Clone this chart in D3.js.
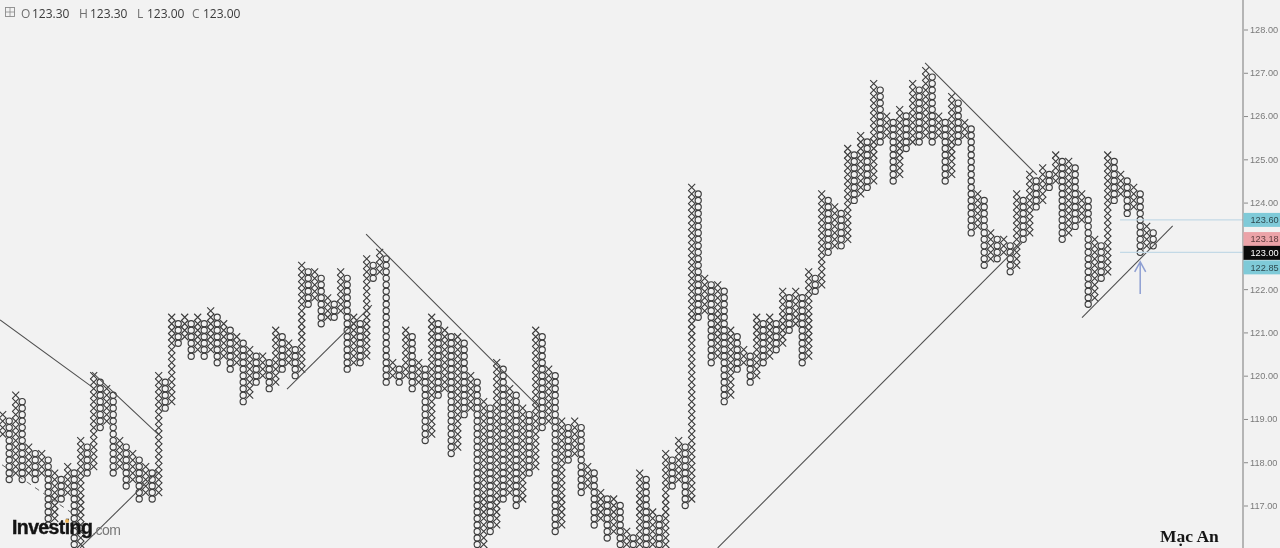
<!DOCTYPE html>
<html>
<head>
<meta charset="utf-8">
<script src="https://cdnjs.cloudflare.com/ajax/libs/d3/7.8.5/d3.min.js"></script>
<style>
html,body{margin:0;padding:0;background:#f2f2f2;overflow:hidden}
svg{display:block;filter:blur(0.35px)}
</style>
</head>
<body>
<svg id="c" width="1280" height="548"></svg>
<script>
const boxSize = 0.15;
// Top of every X column (columns 0, 2, 4, ...)
const xColumnTops = [119.10,119.55,118.35,118.20,117.75,117.90,118.50,120.00,119.70,118.50,118.20,117.90,120.00,
121.35,121.35,121.35,121.50,121.20,120.90,120.60,120.45,121.05,120.75,122.55,122.40,121.80,122.40,121.35,122.70,122.85,
120.30,121.05,120.30,121.35,121.05,120.90,120.00,119.40,120.30,119.70,119.25,121.05,120.15,118.95,118.95,117.90,117.30,
117.15,116.40,117.75,116.85,118.20,118.50,124.35,122.25,122.10,121.05,120.60,121.35,121.35,121.95,121.95,122.40,124.20,
123.90,125.25,125.55,126.75,126.00,126.15,126.75,127.05,126.00,126.45,125.85,124.20,123.30,123.15,124.20,124.65,124.80,
125.10,124.95,124.20,123.15,125.10,124.65,124.35,123.45];
// Bottom of every O column (columns 1, 3, 5, ...)
const oColumnLows = [117.60,117.60,117.60,116.55,117.15,115.95,117.75,118.80,117.75,117.45,117.15,117.15,119.25,
120.75,120.45,120.45,120.30,120.15,119.40,119.85,119.70,120.15,120.00,121.65,121.20,121.35,120.15,120.30,122.25,119.85,
119.85,119.70,118.50,119.55,118.20,119.10,115.80,116.40,117.15,117.00,117.75,118.80,116.40,118.05,117.30,116.55,116.25,
115.95,115.80,115.80,115.80,117.45,117.00,121.35,120.30,119.40,120.15,119.85,120.30,120.60,121.05,120.30,121.95,122.85,
123.00,124.05,124.35,125.40,124.50,125.25,125.40,125.40,124.50,125.40,123.30,122.55,122.70,122.40,123.15,123.90,124.35,
123.15,123.45,121.65,122.25,124.05,123.75,122.85,123.00];
const firstColumnLow = 118.65;
const axisTicks = [128,127,126,125,124,122,121,120,119,118,117];
const ohlcLabels = ["O","H","L","C"];
const ohlcValues = ["123.30","123.30","123.00","123.00"];
// Trend lines: [column, price] end points
const solidLines = [
  [[-0.4,121.29],[13.74,119.74]],
  [[13.74,120.08],[23.9,118.65]],
  [[11.9,116.02],[23.74,117.77]],
  [[43.74,119.69],[56.8,121.63]],
  [[55.9,123.27],[82.66,119.25]],
  [[110.0,116.02],[156.8,123.07]],
  [[141.9,127.23],[159.1,124.64]],
  [[166.05,121.34],[180,123.46]]
];
const dashedLines = [[[-0.1,117.94],[11.58,116.73]]];
const levelPrices = [123.60,122.85];
const levelStartColumn = 171.9;
const arrowColumn = 175, arrowTip = 122.63, arrowTail = 121.89;
const priceTags = [
  {label:"123.60",fill:"#7fcad8",text:"#2f4a50",price:123.60,shift:0},
  {label:"123.18",fill:"#eba3a8",text:"#5a3a3c",price:123.18,shift:1},
  {label:"123.00",fill:"#0c0c0c",text:"#ffffff",price:123.00,shift:7},
  {label:"122.85",fill:"#7fcad8",text:"#2f4a50",price:122.85,shift:15}
];

const svg = d3.select("#c");
const W = 1280, H = 548, axisX = 1243;
const sans = "'Liberation Sans',Arial,sans-serif";
svg.append("rect").attr("width",W).attr("height",H).attr("fill","#f2f2f2");

const x = d3.scaleLinear().domain([0,177]).range([2.7,2.7+6.5*177]);
const y = d3.scaleLinear().domain([128,117]).range([29.5,505.5]);

const defs = svg.append("defs");
defs.append("clipPath").attr("id","plot").append("rect").attr("width",axisX).attr("height",H);
const plot = svg.append("g").attr("clip-path","url(#plot)");

// Build the columns
const columns = [];
for (let i=0;i<xColumnTops.length+oColumnLows.length;i++){
  const k = Math.floor(i/2);
  if (i%2===0){
    const hi = xColumnTops[k];
    const lo = i===0 ? firstColumnLow : oColumnLows[k-1]+boxSize;
    columns.push({i,type:"X",hi,lo});
  } else {
    columns.push({i,type:"O",hi:xColumnTops[k]-boxSize,lo:oColumnLows[k]});
  }
}
const marks = columns.flatMap(c=>{
  const n = Math.round((c.hi-c.lo)/boxSize)+1;
  return d3.range(n).map(j=>({col:c.i,type:c.type,price:c.hi-j*boxSize}));
});

plot.selectAll("path.x").data(marks.filter(d=>d.type==="X")).join("path")
  .attr("class","x")
  .attr("d",d=>{const a=x(d.col),b=y(d.price),s=3.5;return `M${a-s},${b-s}L${a+s},${b+s}M${a+s},${b-s}L${a-s},${b+s}`;})
  .attr("stroke","#3c3c3c").attr("stroke-width",1.1).attr("fill","none");
plot.selectAll("circle.o").data(marks.filter(d=>d.type==="O")).join("circle")
  .attr("class","o")
  .attr("cx",d=>x(d.col)).attr("cy",d=>y(d.price)).attr("r",3.1)
  .attr("stroke","#3c3c3c").attr("stroke-width",1.15).attr("fill","none");

// Trend lines
const line = d3.line().x(d=>x(d[0])).y(d=>y(d[1]));
plot.selectAll("path.tl").data(solidLines).join("path").attr("class","tl")
  .attr("d",line).attr("stroke","#4d4d4d").attr("stroke-width",1.05).attr("fill","none");
plot.selectAll("path.td").data(dashedLines).join("path").attr("class","td")
  .attr("d",line).attr("stroke","#666").attr("stroke-width",1).attr("stroke-dasharray","5,5").attr("fill","none");

// Level lines
plot.selectAll("line.lvl").data(levelPrices).join("line").attr("class","lvl")
  .attr("x1",x(levelStartColumn)).attr("x2",axisX)
  .attr("y1",d=>y(d)).attr("y2",d=>y(d))
  .attr("stroke","#c3d9e6").attr("stroke-width",1.2);

// Arrow
const ax = x(arrowColumn), tipY = y(arrowTip), tailY = y(arrowTail);
plot.append("path")
  .attr("d",`M${ax},${tailY}L${ax},${tipY}M${ax-5.5},${tipY+10}L${ax},${tipY}L${ax+5.5},${tipY+10}`)
  .attr("stroke","#8e9fd2").attr("stroke-width",1.5).attr("fill","none");

// Price axis
const axis = d3.axisRight(y).tickValues(axisTicks).tickFormat(d3.format(".2f")).tickSize(4).tickPadding(2);
const gA = svg.append("g").attr("transform",`translate(${axisX+1},0)`).call(axis);
gA.select(".domain").remove();
gA.selectAll(".tick line").attr("stroke","#8a8a8a");
gA.selectAll(".tick text").attr("fill","#7a7a7a")
  .style("font-family",sans).style("font-size","9.2px");
svg.append("line").attr("x1",axisX).attr("x2",axisX).attr("y1",0).attr("y2",H)
  .attr("stroke","#8c8c8c").attr("stroke-width",1.2);

// Price tags
const tagG = svg.selectAll("g.tag").data(priceTags).join("g").attr("class","tag")
  .attr("transform",d=>`translate(${axisX+0.5},${y(d.price)+d.shift})`);
tagG.append("rect").attr("x",0).attr("y",-7).attr("width",W-axisX).attr("height",14).attr("fill",d=>d.fill);
tagG.append("text").attr("x",7).attr("y",3.3).text(d=>d.label).attr("fill",d=>d.text)
  .style("font-family",sans).style("font-size","9.2px");

// Header
const hdr = svg.append("g");
hdr.append("rect").attr("x",5.5).attr("y",7.5).attr("width",9).attr("height",9)
  .attr("fill","none").attr("stroke","#8a8a8a").attr("stroke-width",0.9);
hdr.append("path").attr("d","M10,7.5V16.5M5.5,12H14.5").attr("stroke","#8a8a8a").attr("stroke-width",0.8);
const hdrLabelX = [21,79,137,192], hdrValueX = [32,90,147,203];
hdr.selectAll("text.l").data(ohlcLabels).join("text").attr("class","l")
  .attr("x",(d,i)=>hdrLabelX[i]).attr("y",18).text(d=>d).attr("fill","#6f6f6f")
  .style("font-family","'Open Sans',sans-serif").style("font-size","12px");
hdr.selectAll("text.v").data(ohlcValues).join("text").attr("class","v")
  .attr("x",(d,i)=>hdrValueX[i]).attr("y",18).text(d=>d).attr("fill","#3a3a3a")
  .style("font-family","'Open Sans',sans-serif").style("font-size","12px");

// Logo
svg.append("text").attr("x",12).attr("y",534).text("Investing")
  .attr("fill","#141414").attr("stroke","#141414").attr("stroke-width",0.4)
  .style("font-family",sans)
  .style("font-size","19.5px").style("font-weight","700").style("letter-spacing","-0.6px");
svg.append("text").attr("x",92).attr("y",535).text(".com")
  .attr("fill","#777").style("font-family",sans)
  .style("font-size","14px").style("letter-spacing","-0.5px");
svg.append("circle").attr("cx",67).attr("cy",521).attr("r",2).attr("fill","#f0b75a");

// Signature
svg.append("text").attr("x",1160).attr("y",542).text("Mạc An")
  .attr("fill","#151515").style("font-family","'Liberation Serif',serif")
  .style("font-size","17.5px").style("font-weight","700");
</script>
</body>
</html>
